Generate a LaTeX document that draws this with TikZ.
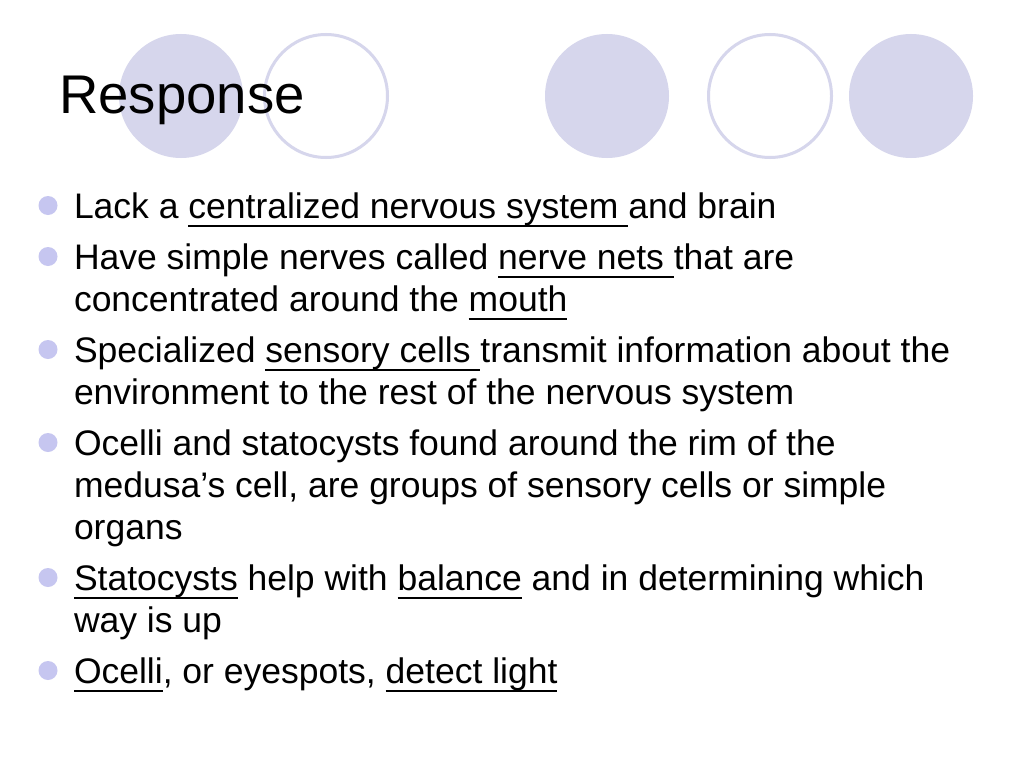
\documentclass[tikz,border=0pt]{standalone}
\usepackage{fontspec}
\setmainfont{Liberation Sans}
\definecolor{lav}{RGB}{214,214,236}
\definecolor{bul}{RGB}{198,198,240}
\newcommand\myul[1]{\setbox0\hbox{#1}\rlap{\rule[-9.3pt]{\wd0}{2.4pt}}\box0\relax}
\begin{document}
\begin{tikzpicture}[x=1pt,y=-1pt,
  disc/.style={circle,fill=lav,draw=none,minimum size=124pt,inner sep=0},
  ring/.style={circle,draw=lav,line width=3pt,fill=none,minimum size=123pt,inner sep=0},
  body/.style={anchor=base west,inner sep=0,outer sep=0,font=\fontsize{35.5}{42}\selectfont},
  bullet/.style={circle,fill=bul,draw=none,minimum size=19pt,inner sep=0},
  title/.style={anchor=base west,inner sep=0,font=\fontsize{54.5}{60}\selectfont}]
\useasboundingbox[fill=white] (0,0) rectangle (1024,768);
% decorative circles
\node[disc] (c1) at (181,96) {};
\node[ring] (c2) at (326,96) {};
\node[disc] (c3) at (607,96) {};
\node[ring] (c4) at (770,96) {};
\node[disc] (c5) at (911,96) {};
% title
\node[title] (t) at (59,113) {Response};
% bullets
\foreach \n/\y in {1/218,2/269,3/362,4/455,5/590,6/683}
  \node[bullet] (b\n) at (48,\y-12.5) {};
% text lines
\node[body] (l1) at (74,218) {Lack a \myul{centralized nervous system }and brain};
\node[body] (l2) at (74,269) {Have simple nerves called \myul{nerve nets }that are};
\node[body] (l3) at (74,311) {concentrated around the \myul{mouth}};
\node[body] (l4) at (74,362) {Specialized \myul{sensory cells }transmit information about the};
\node[body] (l5) at (74,404) {environment to the rest of the nervous system};
\node[body] (l6) at (74,455) {Ocelli and statocysts found around the rim of the};
\node[body] (l7) at (74,497) {medusa’s cell, are groups of sensory cells or simple};
\node[body] (l8) at (74,539) {organs};
\node[body] (l9) at (74,590) {\myul{Statocysts} help with \myul{balance} and in determining which};
\node[body] (l10) at (74,632) {way is up};
\node[body] (l11) at (74,683) {\myul{Ocelli}, or eyespots, \myul{detect light}};
\end{tikzpicture}
\end{document}
